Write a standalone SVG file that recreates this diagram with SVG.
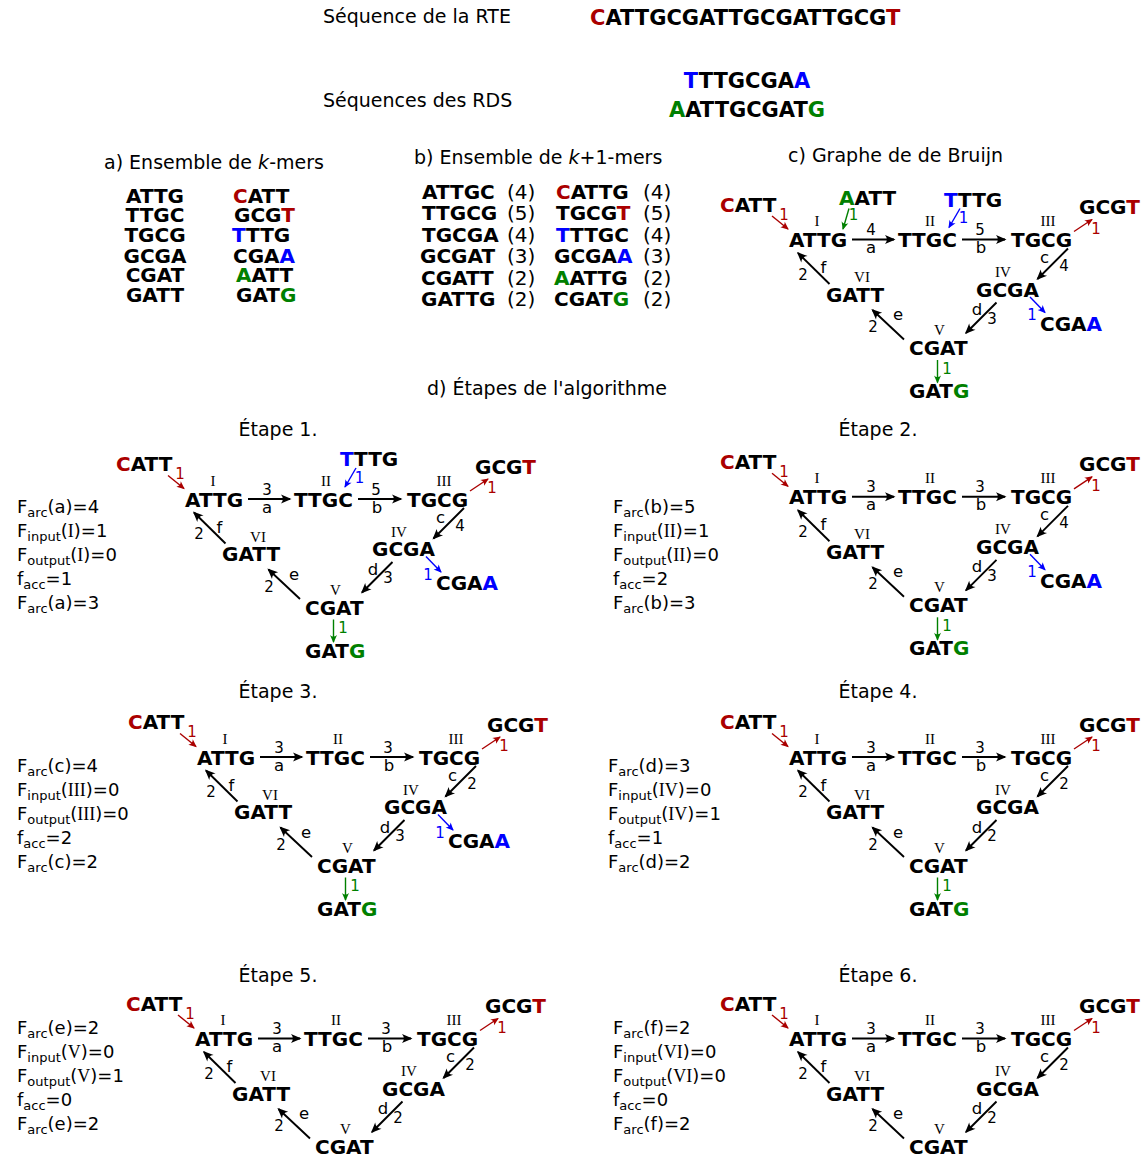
<svg xmlns="http://www.w3.org/2000/svg" width="1148" height="1158" viewBox="0 0 1148 1158">
<defs>
<style>
text{font-family:"DejaVu Sans","Liberation Sans",sans-serif;fill:#000}
.t{font-size:19px}
.n{font-size:20px;font-weight:bold}
.s{font-size:21px;font-weight:bold}
.p{font-size:20px}
.rn{font-family:"Liberation Serif","DejaVu Serif",serif;font-size:15px;text-anchor:middle}
.w{font-size:15px;text-anchor:middle}
.L{font-size:16.5px}
.f{font-size:18px}
.sub{font-size:13px}
.rs{font-family:"Liberation Serif","DejaVu Serif",serif}
.R{fill:#aa0000}.B{fill:#0000ff}.G{fill:#008000}
.k{stroke:#000;stroke-width:1.9;fill:none;marker-end:url(#mk)}
.kr{stroke:#aa0000;stroke-width:1.4;fill:none;marker-end:url(#mr)}
.kb{stroke:#0000ff;stroke-width:1.4;fill:none;marker-end:url(#mb)}
.kg{stroke:#008000;stroke-width:1.4;fill:none;marker-end:url(#mg)}
</style>
<marker id="mk" markerUnits="userSpaceOnUse" markerWidth="20" markerHeight="20" viewBox="-12 -10 20 20" refX="0" refY="0" orient="auto"><path d="M1.5,0 L-9,-4.5 C-6.5,-1.5 -6.5,1.5 -9,4.5 Z" fill="#000"/></marker>
<marker id="mr" markerUnits="userSpaceOnUse" markerWidth="16" markerHeight="16" viewBox="-10 -8 16 16" refX="0" refY="0" orient="auto"><path d="M1,0 L-7,-3.5 C-5,-1 -5,1 -7,3.5 Z" fill="#aa0000"/></marker>
<marker id="mb" markerUnits="userSpaceOnUse" markerWidth="16" markerHeight="16" viewBox="-10 -8 16 16" refX="0" refY="0" orient="auto"><path d="M1,0 L-7,-3.5 C-5,-1 -5,1 -7,3.5 Z" fill="#0000ff"/></marker>
<marker id="mg" markerUnits="userSpaceOnUse" markerWidth="16" markerHeight="16" viewBox="-10 -8 16 16" refX="0" refY="0" orient="auto"><path d="M1,0 L-7,-3.5 C-5,-1 -5,1 -7,3.5 Z" fill="#008000"/></marker>
</defs>
<rect width="1148" height="1158" fill="#fff"/>

<g id="header">
<text class="t" x="323" y="23">Séquence de la RTE</text>
<text class="s" x="590" y="25"><tspan class="R">C</tspan>ATTGCGATTGCGATTGCG<tspan class="R">T</tspan></text>
<text class="t" x="323" y="107">Séquences des RDS</text>
<text class="s" x="747" y="87.5" text-anchor="middle"><tspan class="B">T</tspan>TTGCGA<tspan class="B">A</tspan></text>
<text class="s" x="747" y="116.5" text-anchor="middle"><tspan class="G">A</tspan>ATTGCGAT<tspan class="G">G</tspan></text>
</g>

<g id="kmers">
<text class="t" x="104" y="168.5">a) Ensemble de <tspan font-style="italic">k</tspan>-mers</text>
<g class="n" text-anchor="middle">
<text class="n" x="155" y="202.5">ATTG</text>
<text class="n" x="155" y="222">TTGC</text>
<text class="n" x="155" y="241.5">TGCG</text>
<text class="n" x="155" y="262.5">GCGA</text>
<text class="n" x="155" y="282">CGAT</text>
<text class="n" x="155" y="302">GATT</text>
</g>
<text class="n" x="233" y="202.5"><tspan class="R">C</tspan>ATT</text>
<text class="n" x="234" y="222">GCG<tspan class="R">T</tspan></text>
<text class="n" x="232" y="241.5"><tspan class="B">T</tspan>TTG</text>
<text class="n" x="233" y="262.5">CGA<tspan class="B">A</tspan></text>
<text class="n" x="236" y="282"><tspan class="G">A</tspan>ATT</text>
<text class="n" x="236" y="302">GAT<tspan class="G">G</tspan></text>
</g>

<g id="k1mers">
<text class="t" x="414" y="164">b) Ensemble de <tspan font-style="italic">k</tspan>+1-mers</text>
<text class="n" x="422" y="198.5">ATTGC</text><text class="p" x="507" y="198.5">(4)</text>
<text class="n" x="422" y="220">TTGCG</text><text class="p" x="507" y="220">(5)</text>
<text class="n" x="422" y="241.5">TGCGA</text><text class="p" x="507" y="241.5">(4)</text>
<text class="n" x="420" y="263">GCGAT</text><text class="p" x="507" y="263">(3)</text>
<text class="n" x="421" y="284.5">CGATT</text><text class="p" x="507" y="284.5">(2)</text>
<text class="n" x="421" y="306">GATTG</text><text class="p" x="507" y="306">(2)</text>
<text class="n" x="556" y="198.5"><tspan class="R">C</tspan>ATTG</text><text class="p" x="643" y="198.5">(4)</text>
<text class="n" x="556" y="220">TGCG<tspan class="R">T</tspan></text><text class="p" x="643" y="220">(5)</text>
<text class="n" x="556" y="241.5"><tspan class="B">T</tspan>TTGC</text><text class="p" x="643" y="241.5">(4)</text>
<text class="n" x="554" y="263">GCGA<tspan class="B">A</tspan></text><text class="p" x="643" y="263">(3)</text>
<text class="n" x="554" y="284.5"><tspan class="G">A</tspan>ATTG</text><text class="p" x="643" y="284.5">(2)</text>
<text class="n" x="554" y="306">CGAT<tspan class="G">G</tspan></text><text class="p" x="643" y="306">(2)</text>
</g>

<text class="t" x="788" y="162">c) Graphe de de Bruijn</text>
<text class="t" x="427" y="395">d) Étapes de l'algorithme</text>
<g id="titles" class="t" text-anchor="middle">
<text class="t" x="278" y="436">Étape 1.</text>
<text class="t" x="878" y="436">Étape 2.</text>
<text class="t" x="278" y="698">Étape 3.</text>
<text class="t" x="878" y="698">Étape 4.</text>
<text class="t" x="278" y="982">Étape 5.</text>
<text class="t" x="878" y="982">Étape 6.</text>
</g>

<!-- Panel c -->
<g id="graph-c">
<g id="c-edges">
<line class="k" x1="852" y1="239.5" x2="894" y2="239.5"/>
<line class="k" x1="962" y1="239.5" x2="1005" y2="239.5"/>
<line class="k" x1="1068" y1="248.5" x2="1037.5" y2="279"/>
<line class="k" x1="996.5" y1="302.5" x2="966" y2="333"/>
<line class="k" x1="904" y1="339.5" x2="872.5" y2="310"/>
<line class="k" x1="829.5" y1="284" x2="798" y2="253"/>
<line class="kr" x1="772" y1="216" x2="788" y2="229"/>
<line class="kg" x1="849" y1="208.5" x2="843" y2="229"/>
<line class="kb" x1="960" y1="208.5" x2="949" y2="227.5"/>
<line class="kr" x1="1074" y1="231.5" x2="1092" y2="219.5"/>
<line class="kb" x1="1030" y1="297" x2="1045" y2="312.5"/>
<line class="kg" x1="937.5" y1="360" x2="937.5" y2="382.5"/>
<text class="w" x="871" y="235">4</text><text class="w L" x="871" y="253">a</text>
<text class="w" x="980" y="235">5</text><text class="w L" x="981" y="253">b</text>
<text class="w L" x="1044.5" y="263">c</text><text class="w" x="1064" y="271">4</text>
<text class="w L" x="977" y="315">d</text><text class="w" x="992" y="323.5">3</text>
<text class="w L" x="898" y="320">e</text><text class="w" x="873" y="332">2</text>
<text class="w L" x="823.5" y="273">f</text><text class="w" x="803" y="279.5">2</text>
<text class="w R" x="784" y="219.5">1</text>
<text class="w G" x="853.5" y="220">1</text>
<text class="w B" x="963.5" y="223">1</text>
<text class="w R" x="1096" y="233.5">1</text>
<text class="w B" x="1032" y="320">1</text>
<text class="w G" x="947" y="373.5">1</text>
</g>
<g id="c-CATT"><text class="n" x="720" y="211.5"><tspan class="R">C</tspan>ATT</text></g>
<g id="c-AATT"><text class="n" x="839" y="205"><tspan class="G">A</tspan>ATT</text></g>
<g id="c-TTTG"><text class="n" x="944" y="206.5"><tspan class="B">T</tspan>TTG</text></g>
<g id="c-GCGT"><text class="n" x="1079" y="214">GCG<tspan class="R">T</tspan></text></g>
<g id="c-ATTG"><text class="rn" x="817" y="226">I</text><text class="n" x="789" y="247">ATTG</text></g>
<g id="c-TTGC"><text class="rn" x="930" y="226">II</text><text class="n" x="898" y="247">TTGC</text></g>
<g id="c-TGCG"><text class="rn" x="1048" y="226">III</text><text class="n" x="1011" y="247">TGCG</text></g>
<g id="c-GCGA"><text class="rn" x="1003" y="277">IV</text><text class="n" x="976" y="296.5">GCGA</text></g>
<g id="c-CGAA"><text class="n" x="1040" y="330.5">CGA<tspan class="B">A</tspan></text></g>
<g id="c-GATT"><text class="rn" x="862" y="282">VI</text><text class="n" x="826" y="301.5">GATT</text></g>
<g id="c-CGAT"><text class="rn" x="939.5" y="335">V</text><text class="n" x="909" y="355">CGAT</text></g>
<g id="c-GATG"><text class="n" x="909" y="398">GAT<tspan class="G">G</tspan></text></g>
</g>

<!-- Etape 1 -->
<g id="etape1">
<g class="f">
<text class="f" x="17" y="512.5">F<tspan class="sub" dy="4">arc</tspan><tspan dy="-4">(a)=4</tspan></text>
<text class="f" x="17" y="536.5">F<tspan class="sub" dy="4">input</tspan><tspan dy="-4">(<tspan class="rs">I</tspan>)=1</tspan></text>
<text class="f" x="17" y="560.5">F<tspan class="sub" dy="4">output</tspan><tspan dy="-4">(<tspan class="rs">I</tspan>)=0</tspan></text>
<text class="f" x="17" y="584.5">f<tspan class="sub" dy="4">acc</tspan><tspan dy="-4">=1</tspan></text>
<text class="f" x="17" y="608.5">F<tspan class="sub" dy="4">arc</tspan><tspan dy="-4">(a)=3</tspan></text>
</g>
<g transform="translate(-604,259.5)">
<g id="e1-edges">
<line class="k" x1="852" y1="239.5" x2="894" y2="239.5"/>
<line class="k" x1="962" y1="239.5" x2="1005" y2="239.5"/>
<line class="k" x1="1068" y1="248.5" x2="1037.5" y2="279"/>
<line class="k" x1="996.5" y1="302.5" x2="966" y2="333"/>
<line class="k" x1="904" y1="339.5" x2="872.5" y2="310"/>
<line class="k" x1="829.5" y1="284" x2="798" y2="253"/>
<line class="kr" x1="772" y1="216" x2="788" y2="229"/>
<line class="kb" x1="960" y1="208.5" x2="949" y2="227.5"/>
<line class="kr" x1="1074" y1="231.5" x2="1092" y2="219.5"/>
<line class="kb" x1="1030" y1="297" x2="1045" y2="312.5"/>
<line class="kg" x1="937.5" y1="360" x2="937.5" y2="382.5"/>
<text class="w" x="871" y="235">3</text><text class="w L" x="871" y="253">a</text>
<text class="w" x="980" y="235">5</text><text class="w L" x="981" y="253">b</text>
<text class="w L" x="1044.5" y="263">c</text><text class="w" x="1064" y="271">4</text>
<text class="w L" x="977" y="315">d</text><text class="w" x="992" y="323.5">3</text>
<text class="w L" x="898" y="320">e</text><text class="w" x="873" y="332">2</text>
<text class="w L" x="823.5" y="273">f</text><text class="w" x="803" y="279.5">2</text>
<text class="w R" x="784" y="219.5">1</text>
<text class="w B" x="963.5" y="223">1</text>
<text class="w R" x="1096" y="233.5">1</text>
<text class="w B" x="1032" y="320">1</text>
<text class="w G" x="947" y="373.5">1</text>
</g>
<g id="e1-CATT"><text class="n" x="720" y="211.5"><tspan class="R">C</tspan>ATT</text></g>
<g id="e1-TTTG"><text class="n" x="944" y="206.5"><tspan class="B">T</tspan>TTG</text></g>
<g id="e1-GCGT"><text class="n" x="1079" y="214">GCG<tspan class="R">T</tspan></text></g>
<g id="e1-ATTG"><text class="rn" x="817" y="226">I</text><text class="n" x="789" y="247">ATTG</text></g>
<g id="e1-TTGC"><text class="rn" x="930" y="226">II</text><text class="n" x="898" y="247">TTGC</text></g>
<g id="e1-TGCG"><text class="rn" x="1048" y="226">III</text><text class="n" x="1011" y="247">TGCG</text></g>
<g id="e1-GCGA"><text class="rn" x="1003" y="277">IV</text><text class="n" x="976" y="296.5">GCGA</text></g>
<g id="e1-CGAA"><text class="n" x="1040" y="330.5">CGA<tspan class="B">A</tspan></text></g>
<g id="e1-GATT"><text class="rn" x="862" y="282">VI</text><text class="n" x="826" y="301.5">GATT</text></g>
<g id="e1-CGAT"><text class="rn" x="939.5" y="335">V</text><text class="n" x="909" y="355">CGAT</text></g>
<g id="e1-GATG"><text class="n" x="909" y="398">GAT<tspan class="G">G</tspan></text></g>
</g>
</g>

<!-- Etape 2 -->
<g id="etape2">
<g class="f">
<text class="f" x="613" y="512.5">F<tspan class="sub" dy="4">arc</tspan><tspan dy="-4">(b)=5</tspan></text>
<text class="f" x="613" y="536.5">F<tspan class="sub" dy="4">input</tspan><tspan dy="-4">(<tspan class="rs">II</tspan>)=1</tspan></text>
<text class="f" x="613" y="560.5">F<tspan class="sub" dy="4">output</tspan><tspan dy="-4">(<tspan class="rs">II</tspan>)=0</tspan></text>
<text class="f" x="613" y="584.5">f<tspan class="sub" dy="4">acc</tspan><tspan dy="-4">=2</tspan></text>
<text class="f" x="613" y="608.5">F<tspan class="sub" dy="4">arc</tspan><tspan dy="-4">(b)=3</tspan></text>
</g>
<g transform="translate(0,257.3)">
<g id="e2-edges">
<line class="k" x1="852" y1="239.5" x2="894" y2="239.5"/>
<line class="k" x1="962" y1="239.5" x2="1005" y2="239.5"/>
<line class="k" x1="1068" y1="248.5" x2="1037.5" y2="279"/>
<line class="k" x1="996.5" y1="302.5" x2="966" y2="333"/>
<line class="k" x1="904" y1="339.5" x2="872.5" y2="310"/>
<line class="k" x1="829.5" y1="284" x2="798" y2="253"/>
<line class="kr" x1="772" y1="216" x2="788" y2="229"/>
<line class="kr" x1="1074" y1="231.5" x2="1092" y2="219.5"/>
<line class="kb" x1="1030" y1="297" x2="1045" y2="312.5"/>
<line class="kg" x1="937.5" y1="360" x2="937.5" y2="382.5"/>
<text class="w" x="871" y="235">3</text><text class="w L" x="871" y="253">a</text>
<text class="w" x="980" y="235">3</text><text class="w L" x="981" y="253">b</text>
<text class="w L" x="1044.5" y="263">c</text><text class="w" x="1064" y="271">4</text>
<text class="w L" x="977" y="315">d</text><text class="w" x="992" y="323.5">3</text>
<text class="w L" x="898" y="320">e</text><text class="w" x="873" y="332">2</text>
<text class="w L" x="823.5" y="273">f</text><text class="w" x="803" y="279.5">2</text>
<text class="w R" x="784" y="219.5">1</text>
<text class="w R" x="1096" y="233.5">1</text>
<text class="w B" x="1032" y="320">1</text>
<text class="w G" x="947" y="373.5">1</text>
</g>
<g id="e2-CATT"><text class="n" x="720" y="211.5"><tspan class="R">C</tspan>ATT</text></g>
<g id="e2-GCGT"><text class="n" x="1079" y="214">GCG<tspan class="R">T</tspan></text></g>
<g id="e2-ATTG"><text class="rn" x="817" y="226">I</text><text class="n" x="789" y="247">ATTG</text></g>
<g id="e2-TTGC"><text class="rn" x="930" y="226">II</text><text class="n" x="898" y="247">TTGC</text></g>
<g id="e2-TGCG"><text class="rn" x="1048" y="226">III</text><text class="n" x="1011" y="247">TGCG</text></g>
<g id="e2-GCGA"><text class="rn" x="1003" y="277">IV</text><text class="n" x="976" y="296.5">GCGA</text></g>
<g id="e2-CGAA"><text class="n" x="1040" y="330.5">CGA<tspan class="B">A</tspan></text></g>
<g id="e2-GATT"><text class="rn" x="862" y="282">VI</text><text class="n" x="826" y="301.5">GATT</text></g>
<g id="e2-CGAT"><text class="rn" x="939.5" y="335">V</text><text class="n" x="909" y="355">CGAT</text></g>
<g id="e2-GATG"><text class="n" x="909" y="398">GAT<tspan class="G">G</tspan></text></g>
</g>
</g>

<!-- Etape 3 -->
<g id="etape3">
<g class="f">
<text class="f" x="17" y="772">F<tspan class="sub" dy="4">arc</tspan><tspan dy="-4">(c)=4</tspan></text>
<text class="f" x="17" y="796">F<tspan class="sub" dy="4">input</tspan><tspan dy="-4">(<tspan class="rs">III</tspan>)=0</tspan></text>
<text class="f" x="17" y="820">F<tspan class="sub" dy="4">output</tspan><tspan dy="-4">(<tspan class="rs">III</tspan>)=0</tspan></text>
<text class="f" x="17" y="844">f<tspan class="sub" dy="4">acc</tspan><tspan dy="-4">=2</tspan></text>
<text class="f" x="17" y="868">F<tspan class="sub" dy="4">arc</tspan><tspan dy="-4">(c)=2</tspan></text>
</g>
<g transform="translate(-592,517.5)">
<g id="e3-edges">
<line class="k" x1="852" y1="239.5" x2="894" y2="239.5"/>
<line class="k" x1="962" y1="239.5" x2="1005" y2="239.5"/>
<line class="k" x1="1068" y1="248.5" x2="1037.5" y2="279"/>
<line class="k" x1="996.5" y1="302.5" x2="966" y2="333"/>
<line class="k" x1="904" y1="339.5" x2="872.5" y2="310"/>
<line class="k" x1="829.5" y1="284" x2="798" y2="253"/>
<line class="kr" x1="772" y1="216" x2="788" y2="229"/>
<line class="kr" x1="1074" y1="231.5" x2="1092" y2="219.5"/>
<line class="kb" x1="1030" y1="297" x2="1045" y2="312.5"/>
<line class="kg" x1="937.5" y1="360" x2="937.5" y2="382.5"/>
<text class="w" x="871" y="235">3</text><text class="w L" x="871" y="253">a</text>
<text class="w" x="980" y="235">3</text><text class="w L" x="981" y="253">b</text>
<text class="w L" x="1044.5" y="263">c</text><text class="w" x="1064" y="271">2</text>
<text class="w L" x="977" y="315">d</text><text class="w" x="992" y="323.5">3</text>
<text class="w L" x="898" y="320">e</text><text class="w" x="873" y="332">2</text>
<text class="w L" x="823.5" y="273">f</text><text class="w" x="803" y="279.5">2</text>
<text class="w R" x="784" y="219.5">1</text>
<text class="w R" x="1096" y="233.5">1</text>
<text class="w B" x="1032" y="320">1</text>
<text class="w G" x="947" y="373.5">1</text>
</g>
<g id="e3-CATT"><text class="n" x="720" y="211.5"><tspan class="R">C</tspan>ATT</text></g>
<g id="e3-GCGT"><text class="n" x="1079" y="214">GCG<tspan class="R">T</tspan></text></g>
<g id="e3-ATTG"><text class="rn" x="817" y="226">I</text><text class="n" x="789" y="247">ATTG</text></g>
<g id="e3-TTGC"><text class="rn" x="930" y="226">II</text><text class="n" x="898" y="247">TTGC</text></g>
<g id="e3-TGCG"><text class="rn" x="1048" y="226">III</text><text class="n" x="1011" y="247">TGCG</text></g>
<g id="e3-GCGA"><text class="rn" x="1003" y="277">IV</text><text class="n" x="976" y="296.5">GCGA</text></g>
<g id="e3-CGAA"><text class="n" x="1040" y="330.5">CGA<tspan class="B">A</tspan></text></g>
<g id="e3-GATT"><text class="rn" x="862" y="282">VI</text><text class="n" x="826" y="301.5">GATT</text></g>
<g id="e3-CGAT"><text class="rn" x="939.5" y="335">V</text><text class="n" x="909" y="355">CGAT</text></g>
<g id="e3-GATG"><text class="n" x="909" y="398">GAT<tspan class="G">G</tspan></text></g>
</g>
</g>

<!-- Etape 4 -->
<g id="etape4">
<g class="f">
<text class="f" x="608" y="772">F<tspan class="sub" dy="4">arc</tspan><tspan dy="-4">(d)=3</tspan></text>
<text class="f" x="608" y="796">F<tspan class="sub" dy="4">input</tspan><tspan dy="-4">(<tspan class="rs">IV</tspan>)=0</tspan></text>
<text class="f" x="608" y="820">F<tspan class="sub" dy="4">output</tspan><tspan dy="-4">(<tspan class="rs">IV</tspan>)=1</tspan></text>
<text class="f" x="608" y="844">f<tspan class="sub" dy="4">acc</tspan><tspan dy="-4">=1</tspan></text>
<text class="f" x="608" y="868">F<tspan class="sub" dy="4">arc</tspan><tspan dy="-4">(d)=2</tspan></text>
</g>
<g transform="translate(0,517.5)">
<g id="e4-edges">
<line class="k" x1="852" y1="239.5" x2="894" y2="239.5"/>
<line class="k" x1="962" y1="239.5" x2="1005" y2="239.5"/>
<line class="k" x1="1068" y1="248.5" x2="1037.5" y2="279"/>
<line class="k" x1="996.5" y1="302.5" x2="966" y2="333"/>
<line class="k" x1="904" y1="339.5" x2="872.5" y2="310"/>
<line class="k" x1="829.5" y1="284" x2="798" y2="253"/>
<line class="kr" x1="772" y1="216" x2="788" y2="229"/>
<line class="kr" x1="1074" y1="231.5" x2="1092" y2="219.5"/>
<line class="kg" x1="937.5" y1="360" x2="937.5" y2="382.5"/>
<text class="w" x="871" y="235">3</text><text class="w L" x="871" y="253">a</text>
<text class="w" x="980" y="235">3</text><text class="w L" x="981" y="253">b</text>
<text class="w L" x="1044.5" y="263">c</text><text class="w" x="1064" y="271">2</text>
<text class="w L" x="977" y="315">d</text><text class="w" x="992" y="323.5">2</text>
<text class="w L" x="898" y="320">e</text><text class="w" x="873" y="332">2</text>
<text class="w L" x="823.5" y="273">f</text><text class="w" x="803" y="279.5">2</text>
<text class="w R" x="784" y="219.5">1</text>
<text class="w R" x="1096" y="233.5">1</text>
<text class="w G" x="947" y="373.5">1</text>
</g>
<g id="e4-CATT"><text class="n" x="720" y="211.5"><tspan class="R">C</tspan>ATT</text></g>
<g id="e4-GCGT"><text class="n" x="1079" y="214">GCG<tspan class="R">T</tspan></text></g>
<g id="e4-ATTG"><text class="rn" x="817" y="226">I</text><text class="n" x="789" y="247">ATTG</text></g>
<g id="e4-TTGC"><text class="rn" x="930" y="226">II</text><text class="n" x="898" y="247">TTGC</text></g>
<g id="e4-TGCG"><text class="rn" x="1048" y="226">III</text><text class="n" x="1011" y="247">TGCG</text></g>
<g id="e4-GCGA"><text class="rn" x="1003" y="277">IV</text><text class="n" x="976" y="296.5">GCGA</text></g>
<g id="e4-GATT"><text class="rn" x="862" y="282">VI</text><text class="n" x="826" y="301.5">GATT</text></g>
<g id="e4-CGAT"><text class="rn" x="939.5" y="335">V</text><text class="n" x="909" y="355">CGAT</text></g>
<g id="e4-GATG"><text class="n" x="909" y="398">GAT<tspan class="G">G</tspan></text></g>
</g>
</g>

<!-- Etape 5 -->
<g id="etape5">
<g class="f">
<text class="f" x="17" y="1033.5">F<tspan class="sub" dy="4">arc</tspan><tspan dy="-4">(e)=2</tspan></text>
<text class="f" x="17" y="1057.5">F<tspan class="sub" dy="4">input</tspan><tspan dy="-4">(<tspan class="rs">V</tspan>)=0</tspan></text>
<text class="f" x="17" y="1081.5">F<tspan class="sub" dy="4">output</tspan><tspan dy="-4">(<tspan class="rs">V</tspan>)=1</tspan></text>
<text class="f" x="17" y="1105.5">f<tspan class="sub" dy="4">acc</tspan><tspan dy="-4">=0</tspan></text>
<text class="f" x="17" y="1129.5">F<tspan class="sub" dy="4">arc</tspan><tspan dy="-4">(e)=2</tspan></text>
</g>
<g transform="translate(-594,799)">
<g id="e5-edges">
<line class="k" x1="852" y1="239.5" x2="894" y2="239.5"/>
<line class="k" x1="962" y1="239.5" x2="1005" y2="239.5"/>
<line class="k" x1="1068" y1="248.5" x2="1037.5" y2="279"/>
<line class="k" x1="996.5" y1="302.5" x2="966" y2="333"/>
<line class="k" x1="904" y1="339.5" x2="872.5" y2="310"/>
<line class="k" x1="829.5" y1="284" x2="798" y2="253"/>
<line class="kr" x1="772" y1="216" x2="788" y2="229"/>
<line class="kr" x1="1074" y1="231.5" x2="1092" y2="219.5"/>
<text class="w" x="871" y="235">3</text><text class="w L" x="871" y="253">a</text>
<text class="w" x="980" y="235">3</text><text class="w L" x="981" y="253">b</text>
<text class="w L" x="1044.5" y="263">c</text><text class="w" x="1064" y="271">2</text>
<text class="w L" x="977" y="315">d</text><text class="w" x="992" y="323.5">2</text>
<text class="w L" x="898" y="320">e</text><text class="w" x="873" y="332">2</text>
<text class="w L" x="823.5" y="273">f</text><text class="w" x="803" y="279.5">2</text>
<text class="w R" x="784" y="219.5">1</text>
<text class="w R" x="1096" y="233.5">1</text>
</g>
<g id="e5-CATT"><text class="n" x="720" y="211.5"><tspan class="R">C</tspan>ATT</text></g>
<g id="e5-GCGT"><text class="n" x="1079" y="214">GCG<tspan class="R">T</tspan></text></g>
<g id="e5-ATTG"><text class="rn" x="817" y="226">I</text><text class="n" x="789" y="247">ATTG</text></g>
<g id="e5-TTGC"><text class="rn" x="930" y="226">II</text><text class="n" x="898" y="247">TTGC</text></g>
<g id="e5-TGCG"><text class="rn" x="1048" y="226">III</text><text class="n" x="1011" y="247">TGCG</text></g>
<g id="e5-GCGA"><text class="rn" x="1003" y="277">IV</text><text class="n" x="976" y="296.5">GCGA</text></g>
<g id="e5-GATT"><text class="rn" x="862" y="282">VI</text><text class="n" x="826" y="301.5">GATT</text></g>
<g id="e5-CGAT"><text class="rn" x="939.5" y="335">V</text><text class="n" x="909" y="355">CGAT</text></g>
</g>
</g>

<!-- Etape 6 -->
<g id="etape6">
<g class="f">
<text class="f" x="613" y="1033.5">F<tspan class="sub" dy="4">arc</tspan><tspan dy="-4">(f)=2</tspan></text>
<text class="f" x="613" y="1057.5">F<tspan class="sub" dy="4">input</tspan><tspan dy="-4">(<tspan class="rs">VI</tspan>)=0</tspan></text>
<text class="f" x="613" y="1081.5">F<tspan class="sub" dy="4">output</tspan><tspan dy="-4">(<tspan class="rs">VI</tspan>)=0</tspan></text>
<text class="f" x="613" y="1105.5">f<tspan class="sub" dy="4">acc</tspan><tspan dy="-4">=0</tspan></text>
<text class="f" x="613" y="1129.5">F<tspan class="sub" dy="4">arc</tspan><tspan dy="-4">(f)=2</tspan></text>
</g>
<g transform="translate(0,799)">
<g id="e6-edges">
<line class="k" x1="852" y1="239.5" x2="894" y2="239.5"/>
<line class="k" x1="962" y1="239.5" x2="1005" y2="239.5"/>
<line class="k" x1="1068" y1="248.5" x2="1037.5" y2="279"/>
<line class="k" x1="996.5" y1="302.5" x2="966" y2="333"/>
<line class="k" x1="904" y1="339.5" x2="872.5" y2="310"/>
<line class="k" x1="829.5" y1="284" x2="798" y2="253"/>
<line class="kr" x1="772" y1="216" x2="788" y2="229"/>
<line class="kr" x1="1074" y1="231.5" x2="1092" y2="219.5"/>
<text class="w" x="871" y="235">3</text><text class="w L" x="871" y="253">a</text>
<text class="w" x="980" y="235">3</text><text class="w L" x="981" y="253">b</text>
<text class="w L" x="1044.5" y="263">c</text><text class="w" x="1064" y="271">2</text>
<text class="w L" x="977" y="315">d</text><text class="w" x="992" y="323.5">2</text>
<text class="w L" x="898" y="320">e</text><text class="w" x="873" y="332">2</text>
<text class="w L" x="823.5" y="273">f</text><text class="w" x="803" y="279.5">2</text>
<text class="w R" x="784" y="219.5">1</text>
<text class="w R" x="1096" y="233.5">1</text>
</g>
<g id="e6-CATT"><text class="n" x="720" y="211.5"><tspan class="R">C</tspan>ATT</text></g>
<g id="e6-GCGT"><text class="n" x="1079" y="214">GCG<tspan class="R">T</tspan></text></g>
<g id="e6-ATTG"><text class="rn" x="817" y="226">I</text><text class="n" x="789" y="247">ATTG</text></g>
<g id="e6-TTGC"><text class="rn" x="930" y="226">II</text><text class="n" x="898" y="247">TTGC</text></g>
<g id="e6-TGCG"><text class="rn" x="1048" y="226">III</text><text class="n" x="1011" y="247">TGCG</text></g>
<g id="e6-GCGA"><text class="rn" x="1003" y="277">IV</text><text class="n" x="976" y="296.5">GCGA</text></g>
<g id="e6-GATT"><text class="rn" x="862" y="282">VI</text><text class="n" x="826" y="301.5">GATT</text></g>
<g id="e6-CGAT"><text class="rn" x="939.5" y="335">V</text><text class="n" x="909" y="355">CGAT</text></g>
</g>
</g>
</svg>
